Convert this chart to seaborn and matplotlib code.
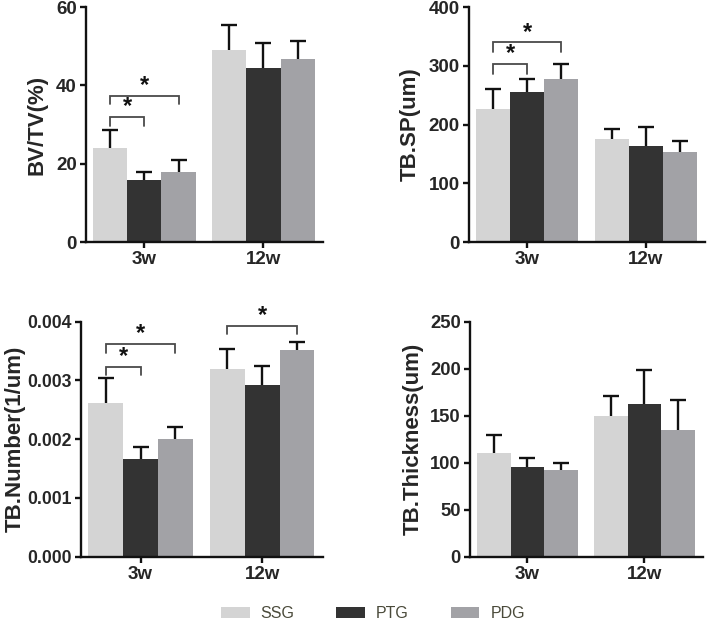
import matplotlib
matplotlib.use("Agg")
import matplotlib.pyplot as plt
import seaborn as sns
import pandas as pd
import numpy as np
from matplotlib.patches import Patch
from matplotlib.ticker import FormatStrFormatter

# ---------------- data ----------------
times = ["3w", "12w"]
groups = ["SSG", "PTG", "PDG"]
colors = ["#d4d4d4", "#333333", "#a2a2a6"]

bvtv_mean = {"SSG": [24.0, 49.0], "PTG": [15.8, 44.4], "PDG": [17.8, 46.7]}
bvtv_err = {"SSG": [4.6, 6.5], "PTG": [2.1, 6.5], "PDG": [3.1, 4.7]}

tbsp_mean = {"SSG": [227, 176], "PTG": [256, 163], "PDG": [277, 154]}
tbsp_err = {"SSG": [33, 16], "PTG": [22, 33], "PDG": [26, 18]}

tbn_mean = {"SSG": [0.00261, 0.00320], "PTG": [0.00167, 0.00293], "PDG": [0.00200, 0.00352]}
tbn_err = {"SSG": [0.00043, 0.00034], "PTG": [0.00020, 0.00031], "PDG": [0.00020, 0.00014]}

tbth_mean = {"SSG": [110, 150], "PTG": [95, 163], "PDG": [92.5, 134.5]}
tbth_err = {"SSG": [20, 21], "PTG": [10, 36], "PDG": [7.5, 32]}

ylabels = ["BV/TV(%)", "TB.SP(um)", "TB.Number(1/um)", "TB.Thickness(um)"]
yticks = [[0, 20, 40, 60], [0, 100, 200, 300, 400],
          [0, 0.001, 0.002, 0.003, 0.004], [0, 50, 100, 150, 200, 250]]

# significance brackets: (time, group_a, group_b, bar_y, leg_y)
bv_sig = [("3w", "SSG", "PTG", 32.0, 29.6), ("3w", "SSG", "PDG", 37.3, 35.2)]
sp_sig = [("3w", "SSG", "PTG", 303, 286), ("3w", "SSG", "PDG", 340, 324)]
tbn_sig = [("3w", "SSG", "PTG", 0.00323, 0.00309), ("3w", "SSG", "PDG", 0.00362, 0.00346),
           ("12w", "SSG", "PDG", 0.00393, 0.00379)]
th_sig = []

panels = [
    (bvtv_mean, bvtv_err, bv_sig, [0.1213, 0.6103, 0.3343, 0.3784], 13.5, 6),
    (tbsp_mean, tbsp_err, sp_sig, [0.6615, 0.6103, 0.3329, 0.3784], 13.5, 6),
    (tbn_mean, tbn_err, tbn_sig, [0.1142, 0.1035, 0.3413, 0.3784], 12.7, 1.5),
    (tbth_mean, tbth_err, th_sig, [0.6629, 0.1035, 0.3286, 0.3784], 13.2, 5),
]

# ---------------- style ----------------
sns.set_style("ticks")
plt.rcParams["font.family"] = ["Liberation Sans", "DejaVu Sans"]

fig = plt.figure(figsize=(7.09, 6.21), dpi=100)

for idx, (means, errs, sigs, pos, tfs, lpad) in enumerate(panels):
    ax = fig.add_axes(pos)
    rows = []
    for g in groups:
        for ti, t in enumerate(times):
            rows.append({"time": t, "group": g, "value": means[g][ti]})
    df = pd.DataFrame(rows)
    sns.barplot(data=df, x="time", y="value", hue="group", order=times,
                hue_order=groups, palette=colors, width=0.86, errorbar=None,
                saturation=1, legend=False, linewidth=0, ax=ax)

    centers = {}
    for hi, g in enumerate(groups):
        cont = ax.containers[hi]
        for ti, t in enumerate(times):
            bar = cont[ti]
            cx = bar.get_x() + bar.get_width() / 2
            h = bar.get_height()
            centers[(t, g)] = cx
            eb = ax.errorbar([cx], [h], yerr=[[0], [errs[g][ti]]], fmt="none",
                             ecolor="#111111", elinewidth=1.7, capsize=5.5,
                             capthick=1.7, zorder=3)
            eb[1][0].set_visible(False)

    for (t, a, b, yb, yl) in sigs:
        xa, xb = centers[(t, a)], centers[(t, b)]
        ax.plot([xa, xa, xb, xb], [yl, yb, yb, yl], color="#4a4a4a", lw=1.3,
                clip_on=False, zorder=4, solid_joinstyle="miter")
        ax.annotate("*", xy=((xa + xb) / 2, yb), xytext=(0, -1),
                    textcoords="offset points", ha="center", va="bottom",
                    fontsize=17, fontweight="bold", color="#111111",
                    annotation_clip=False)

    ax.set_xlim(-0.49, 1.5)
    ax.set_ylim(yticks[idx][0], yticks[idx][-1])
    ax.set_yticks(yticks[idx])
    if idx == 2:
        ax.yaxis.set_major_formatter(FormatStrFormatter("%.3f"))
    ax.set_xlabel("")
    ax.set_ylabel(ylabels[idx], fontsize=16, fontweight="bold", labelpad=lpad)
    sns.despine(ax=ax)
    for sp in ["left", "bottom"]:
        ax.spines[sp].set_linewidth(1.7)
        ax.spines[sp].set_color("#111111")
    ax.tick_params(axis="both", width=1.7, length=4.5, color="#111111", pad=2)
    for lab in ax.get_yticklabels():
        lab.set_fontsize(tfs)
        lab.set_fontweight("bold")
    for lab in ax.get_xticklabels():
        lab.set_fontsize(13.5)
        lab.set_fontweight("bold")

handles = [Patch(facecolor=c, edgecolor="none") for c in colors]
leg = fig.legend(handles, groups, loc="center", bbox_to_anchor=(0.526, 0.012),
                 ncol=3, frameon=False, fontsize=11.5, handlelength=1.8,
                 handleheight=0.75, handletextpad=0.7, columnspacing=2.6)
for txt in leg.get_texts():
    txt.set_color("#4a4a3a")

fig.savefig("out.png", dpi=100)
